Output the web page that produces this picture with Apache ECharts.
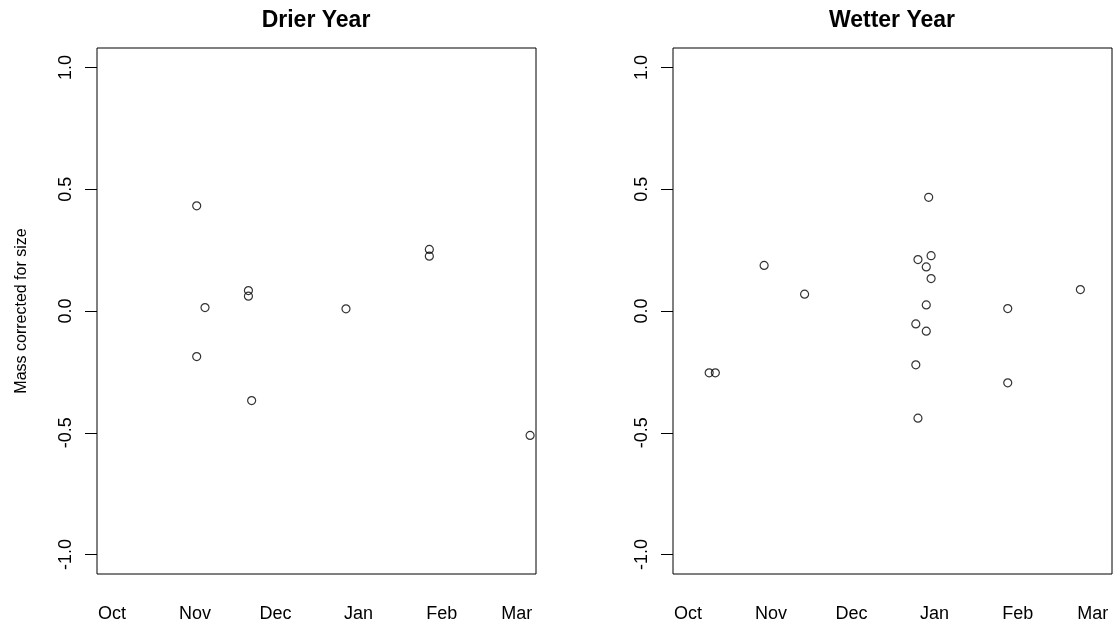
<!DOCTYPE html>
<html>
<head>
<meta charset="utf-8">
<title>Mass corrected for size — Drier vs Wetter Year</title>
<script src="https://cdn.jsdelivr.net/npm/echarts@6/dist/echarts.min.js"></script>
<style>
  html, body { margin: 0; padding: 0; background: #fff; }
  #chart { width: 1120px; height: 626px; }
</style>
</head>
<body>
<div id="chart"></div>
<script>
// Month tick labels and their position in days since 1 October
const monthNames = ['Oct', 'Nov', 'Dec', 'Jan', 'Feb', 'Mar'];
const monthStartDay = [0, 31, 61, 92, 123, 151];

// Y-axis tick values
const yTicks = [-1, -0.5, 0, 0.5, 1];

// Drier year: sampling day (days since 1 Oct) and size-corrected mass
const drierDay  = [31.6, 34.7, 31.6, 50.9, 50.9, 52.1, 87.3, 118.4, 118.4, 156.0];
const drierMass = [0.432, 0.014, -0.187, 0.084, 0.061, -0.368, 0.009, 0.253, 0.225, -0.511];

// Wetter year: sampling day (days since 1 Oct) and size-corrected mass
const wetterDay  = [7.9, 10.2, 28.4, 43.5, 89.8, 90.7, 85.8, 88.9, 90.7, 88.9, 85.0, 88.9, 85.0, 85.8, 119.3, 119.3, 146.4];
const wetterMass = [-0.254, -0.254, 0.187, 0.069, 0.467, 0.227, 0.211, 0.181, 0.133, 0.025, -0.053, -0.083, -0.221, -0.440, 0.010, -0.295, 0.088];

const FONT = "'Liberation Sans', Arial, Helvetica, sans-serif";

function zip(xs, ys) { return xs.map((x, i) => [x, ys[i]]); }

function xAxisFor(gridIndex) {
  return {
    type: 'value', gridIndex,
    min: -5.6, max: 158.2,
    axisLine: { show: false, onZero: false },
    axisTick: { show: false },
    splitLine: { show: false },
    axisLabel: {
      customValues: monthStartDay,
      formatter: v => monthNames[monthStartDay.indexOf(v)] || '',
      margin: 31,
      color: '#000', fontSize: 18, fontFamily: FONT
    }
  };
}

function yAxisFor(gridIndex, withName) {
  return {
    type: 'value', gridIndex,
    min: -1.08, max: 1.08,
    name: withName ? 'Mass corrected for size' : '',
    nameLocation: 'middle', nameRotate: 90, nameGap: 67,
    nameTextStyle: { color: '#000', fontSize: 16, fontFamily: FONT },
    axisLine: { show: false, onZero: false },
    splitLine: { show: false },
    axisTick: {
      show: true, inside: false, length: 12,
      customValues: yTicks,
      lineStyle: { color: '#000', width: 1 }
    },
    axisLabel: {
      customValues: yTicks,
      formatter: v => v.toFixed(1),
      rotate: 90, margin: 22,
      color: '#000', fontSize: 18, fontFamily: FONT
    }
  };
}

const pointStyle = {
  symbol: 'circle', symbolSize: 8,
  itemStyle: { color: 'rgba(0,0,0,0)', borderColor: '#000', borderWidth: 1.2 },
  emphasis: { disabled: true }
};

const chart = echarts.init(document.getElementById('chart'), null, { renderer: 'canvas' });
chart.setOption({
  animation: false,
  backgroundColor: '#fff',
  title: [
    { text: 'Drier Year', left: 311, top: 4, textAlign: 'center',
      textStyle: { fontSize: 23, fontWeight: 'bold', color: '#000', fontFamily: FONT } },
    { text: 'Wetter Year', left: 887, top: 4, textAlign: 'center',
      textStyle: { fontSize: 23, fontWeight: 'bold', color: '#000', fontFamily: FONT } }
  ],
  grid: [
    { left: 97, top: 48, width: 439, height: 526, show: true,
      borderColor: '#000', borderWidth: 1, backgroundColor: 'transparent' },
    { left: 673, top: 48, width: 439, height: 526, show: true,
      borderColor: '#000', borderWidth: 1, backgroundColor: 'transparent' }
  ],
  xAxis: [xAxisFor(0), xAxisFor(1)],
  yAxis: [yAxisFor(0, true), yAxisFor(1, false)],
  series: [
    Object.assign({ type: 'scatter', name: 'Drier Year', xAxisIndex: 0, yAxisIndex: 0,
      data: zip(drierDay, drierMass) }, pointStyle),
    Object.assign({ type: 'scatter', name: 'Wetter Year', xAxisIndex: 1, yAxisIndex: 1,
      data: zip(wetterDay, wetterMass) }, pointStyle)
  ]
});
</script>
</body>
</html>
